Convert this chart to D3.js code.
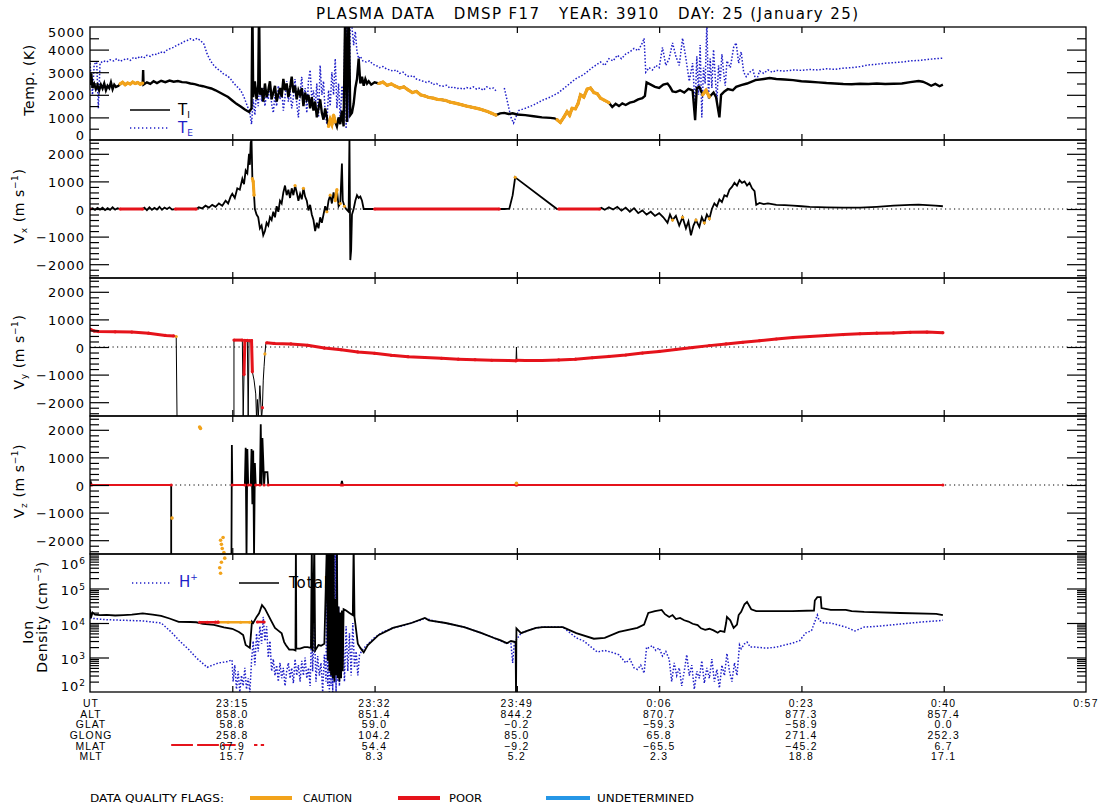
<!DOCTYPE html>
<html><head><meta charset="utf-8">
<script src="https://cdn.jsdelivr.net/npm/d3@7"></script>
<style>
body{margin:0;background:#fff}
svg{display:block;background:#fff}
text{font-family:"DejaVu Sans","Liberation Sans",sans-serif;fill:#000}
</style></head><body>
<svg id="c" width="1104" height="810"></svg>
<script>
// ---------------- DATA (time = minutes after 22:58 UT) ----------------
const timeTicks = [17,34,51,68,85,102];
const utLabels = ["23:15","23:32","23:49","0:06","0:23","0:40","0:57"];
const utTimes = [17,34,51,68,85,102,119];
const rowNames = ["UT","ALT","GLAT","GLONG","MLAT","MLT"];
const altVals = ["858.0","851.4","844.2","870.7","877.3","857.4"];
const glatVals = ["58.8","59.0","\u22120.2","\u221259.3","\u221258.9","0.0"];
const glongVals = ["258.8","104.2","85.0","65.8","271.4","252.3"];
const mlatVals = ["67.9","54.4","\u22129.2","\u221265.5","\u221245.2","6.7"];
const mltVals = ["15.7","8.3","5.2","2.3","18.8","17.1"];
const tempTickVals = [0,1000,2000,3000,4000,5000];
const velTickVals = [-2000,-1000,0,1000,2000];
const densTickExp = [2,3,4,5,6];

// flag: 0 = good (black), 1 = caution, 2 = poor
const tempIon = [
[0,2430,0],[0.15,2950,0],[0.3,2300,0],[0.5,2480,0],[0.7,2250,0],[0.9,2420,0],[1.1,2200,0],[1.3,2450,0],[1.5,2280,0],[1.7,2500,0],[1.9,2200,0],[2.1,2400,0],[2.3,2300,0],[2.5,2550,0],[2.7,2250,0],[2.9,2450,0],[3.1,2350,0],[3.4,2400,0],
[3.6,2480,1],[3.9,2550,1],[4.2,2450,1],[4.5,2520,1],[4.8,2480,1],[5.1,2560,1],[5.4,2500,1],[5.7,2540,1],[6.0,2470,1],[6.3,2520,1],
[6.35,3100,0],[6.4,2450,0],[6.8,2550,0],[7.2,2480,0],[7.6,2600,0],[8.0,2520,0],[8.5,2620,0],[9.0,2560,0],[9.5,2630,0],[10.0,2580,0],[10.5,2610,0],[11.0,2560,0],[11.5,2550,0],[12.0,2500,0],[12.5,2470,0],[13.0,2420,0],[13.5,2380,0],[14.0,2330,0],[14.5,2280,0],[15.0,2200,0],[15.5,2100,0],[16.0,2000,0],[16.5,1900,0],[17.0,1750,0],[17.5,1600,0],[18.0,1480,0],[18.5,1350,0],[19.0,1240,0],[19.3,1400,0],
[19.4,6000,0],[19.5,1900,0],[19.7,2600,0],[19.9,1800,0],[20.1,2400,0],[20.2,6000,0],[20.3,2000,0],[20.5,2300,0],[20.7,1700,0],[20.9,2500,0],[21.1,1900,0],[21.3,2200,0],[21.5,2600,0],[21.7,1800,0],[21.9,2100,0],[22.1,2400,0],[22.3,1700,0],[22.5,2000,0],[22.7,2300,0],[22.9,1900,0],[23.1,2700,0],[23.3,2200,0],[23.5,2500,0],[23.7,1900,0],[23.9,2300,0],[24.1,2800,0],[24.3,2100,0],[24.5,2400,0],[24.7,1800,0],[24.9,2200,0],[25.1,2000,0],[25.3,2300,0],[25.5,1500,0],[25.7,2100,0],[25.9,1800,0],[26.1,2000,0],[26.3,1400,0],[26.5,1900,0],[26.7,1300,0],[26.9,1700,0],[27.1,1000,0],[27.3,1400,0],[27.5,1800,0],[27.7,1200,0],[27.9,900,0],[28.1,1400,0],[28.3,1000,0],
[28.5,600,1],[28.7,900,1],[28.9,700,1],[29.1,1100,1],[29.3,800,1],
[29.5,600,0],[29.7,1000,0],[29.9,700,0],[30.1,1300,0],[30.3,600,0],[30.5,6000,0],[30.7,800,0],[30.9,6000,0],[31.1,1100,0],[31.3,1200,0],[31.5,1600,0],[31.7,2300,0],[31.9,2700,0],[32.1,3600,0],[32.3,2500,0],[32.5,2800,0],[32.7,2400,0],[32.9,2700,0],[33.1,2500,0],[33.3,2600,0],[33.6,2450,0],[34.0,2550,0],
[34.5,2500,1],[35.0,2560,1],[35.5,2420,1],[36.0,2480,1],[36.5,2380,1],[37.0,2300,1],[37.5,2350,1],[38.0,2220,1],[38.5,2100,1],[39.0,2150,1],[39.5,2000,1],[40.0,1950,1],[40.5,1880,1],[41.0,1850,1],[41.5,1800,1],[42.0,1780,1],[42.5,1750,1],[43.0,1680,1],[43.5,1640,1],[44.0,1600,1],[44.5,1550,1],[45.0,1500,1],[45.5,1460,1],[46.0,1420,1],[46.5,1380,1],[47.0,1320,1],[47.5,1260,1],[48.0,1180,1],[48.5,1100,1],
[49.0,1180,0],[49.5,1200,0],[50.0,1150,0],[50.5,1180,0],[51.0,1130,0],[52.0,1100,0],[53.0,1050,0],[54.0,1000,0],[55.0,980,0],[55.5,960,0],
[55.8,900,1],[56.2,780,1],[56.6,1000,1],[57.0,1250,1],[57.3,1100,1],[57.6,1400,1],[58.0,1380,1],[58.3,1600,1],[58.6,2000,1],[59.0,1900,1],[59.4,2250,1],[59.8,2300,1],[60.2,2100,1],[60.6,2050,1],[61.0,1850,1],[61.5,1750,1],[62.0,1650,1],
[62.4,1460,0],[62.8,1600,0],[63.2,1500,0],[63.6,1620,0],[64.0,1550,0],[64.5,1650,0],[65.0,1700,0],[65.5,1800,0],[66.0,1850,0],[66.3,1950,0],[66.5,2550,0],[67.0,2450,0],[67.5,2350,0],[68.0,2300,0],[68.5,2450,0],[69.0,2500,0],[69.3,2350,0],[69.6,2150,0],[70.0,2120,0],[70.5,2200,0],[71.0,2100,0],[71.5,2260,0],[72.0,2200,0],[72.3,880,0],[72.5,2300,0],[72.8,2350,0],
[73.2,2000,1],[73.6,2200,1],[74.0,1900,1],
[74.5,2100,0],[74.8,1900,0],[75.2,1000,0],[75.4,2000,0],[75.8,2150,0],[76.2,2250,0],[76.8,2200,0],[77.2,2350,0],[77.8,2430,0],[78.5,2500,0],[79.5,2650,0],[80.5,2700,0],[81.2,2740,0],[82,2700,0],[83,2680,0],[84,2650,0],[85,2600,0],[86,2580,0],[87,2550,0],[88,2520,0],[89,2500,0],[90,2480,0],[91,2470,0],[92,2490,0],[93,2480,0],[94,2500,0],[95,2480,0],[96,2490,0],[97,2500,0],[98,2560,0],[99,2610,0],[99.5,2580,0],[100,2500,0],[100.5,2400,0],[101,2480,0],[101.5,2380,0],[101.9,2450,0]
];

const tempElec = [
[0,3400],[0.3,2000],[0.5,3350],[0.8,3450],[1.0,1400],[1.2,3400],[1.6,3500],[2.0,3450],[2.4,3550],[2.8,3500],[3.2,3600],[3.6,3480],[4.0,3550],[4.4,3600],[4.8,3520],[5.2,3650],[5.6,3600],[6.0,3700],[6.4,3620],[6.8,3750],[7.2,3700],[7.6,3800],[8.0,3780],[8.4,3900],[8.8,3850],[9.2,3980],[9.6,4050],[10.0,4100],[10.4,4200],[10.8,4250],[11.2,4350],[11.6,4400],[12.0,4480],[12.4,4420],[12.8,4500],[13.2,4400],[13.6,4250],[14.0,3800],[14.4,3500],[14.8,3300],[15.2,3150],[15.6,3050],[16.0,2900],[16.4,2850],[16.8,2700],[17.2,2500],[17.6,2350],[18.0,2200],[18.4,1900],[18.8,1500],[19.1,1200],[19.3,700],[19.5,1800],[19.7,1100],[19.9,2200],[20.1,1500],[20.3,2600],[20.5,1700],[20.7,2300],[20.9,1500],[21.1,2100],[21.3,1800],[21.5,2500],[21.7,1600],[21.9,1200],[22.1,2000],[22.3,1500],[22.5,2400],[22.7,1800],[22.9,2300],[23.1,1300],[23.3,1900],[23.5,2600],[23.7,1700],[23.9,2200],[24.1,1400],[24.3,1900],[24.5,2700],[24.7,1600],[24.9,1000],[25.1,2100],[25.3,2800],[25.5,1700],[25.7,2300],[25.9,1200],[26.1,2600],[26.3,3100],[26.5,1800],[26.7,2200],[26.9,1400],[27.1,2500],[27.3,1000],[27.5,3300],[27.7,2000],[27.9,2600],[28.1,1200],[28.3,700],[28.5,2200],[28.7,1500],[28.9,3000],[29.1,2000],[29.3,3600],[29.5,1400],[29.7,2500],[29.9,900],[30.1,2400],[30.3,1700],[30.5,6000],[30.6,500],[30.7,6000],[30.8,800],[30.9,6000],[31.0,1000],[31.1,6000],[31.3,5000],[31.5,4200],[31.7,4800],[31.9,3900],[32.1,3600],[32.3,3700],[32.6,3500],[33.0,3450],[33.4,3500],[33.8,3350],[34.2,3300],[34.6,3200],[35.0,3250],[35.4,3150],[35.8,3100],[36.2,3050],[36.6,3100],[37.0,2950],[37.4,3000],[37.8,2850],[38.2,2800],[38.6,2850],[39.0,2700],[39.4,2650],[39.8,2600],[40.2,2550],[40.6,2600],[41.0,2450],[41.4,2500],[41.8,2400],[42.2,2380],[42.6,2420],[43.0,2300],[43.4,2350],[43.8,2280],[44.2,2300],[44.6,2250],[45.0,2320],[45.4,2280],[45.8,2350],[46.2,2250],[46.6,2300],[47.0,2200],[47.4,2350],[47.8,2280],[48.2,2300],[48.5,2180],
null,
[49.5,2300],[50.3,1000],[50.6,750],[51.2,1300],[52.0,1400],[53.0,1550],[54.0,1750],[55.0,1900],[56.0,2100],[57.0,2400],[58.0,2700],[59.0,2900],[60.0,3200],[61.0,3450],[61.5,3300],[62.0,3600],[62.5,3500],[63.0,3750],[63.5,3600],[64.0,3800],[64.5,3900],[65.0,4050],[65.5,3950],[66.0,4300],[66.2,4500],[66.4,3000],[66.8,3200],[67.2,3100],[67.6,3300],[68.0,3200],[68.4,4100],[68.8,3300],[69.2,3600],[69.6,4300],[70.0,3700],[70.4,3300],[70.8,4500],[71.2,3600],[71.6,2600],[72.0,3400],[72.3,1500],[72.5,3700],[72.7,2000],[72.9,4200],[73.1,1000],[73.3,3200],[73.5,2500],[73.7,5200],[73.9,1800],[74.1,3600],[74.3,2300],[74.5,4000],[74.7,2800],[74.9,1700],[75.1,3300],[75.3,2600],[75.5,3800],[75.7,3000],[75.9,2400],[76.1,3500],[76.5,3200],[76.9,4100],[77.2,4300],[77.5,3400],[77.8,3900],[78.1,3000],[78.4,2800],[78.8,3000],[79.2,3100],[79.6,2600],[80.0,3050],[80.5,2950],[81.0,3100],[81.5,3000],[82,3080],[83,3050],[84,3100],[85,3080],[86,3120],[87,3100],[88,3150],[89,3130],[90,3180],[91,3200],[92,3250],[93,3320],[94,3350],[95,3400],[96,3420],[97,3450],[98,3500],[99,3520],[100,3560],[101,3600],[101.9,3620]
];

const velX = [
[0,0,2],[0.3,30,0],[0.6,-30,0],[0.9,40,0],[1.2,-20,0],[1.5,50,0],[1.8,-40,0],[2.1,30,0],[2.4,-30,0],[2.7,60,0],[3.0,-20,0],[3.3,30,0],[3.6,0,2],[6.3,0,2],[6.5,50,0],[6.8,-40,0],[7.1,60,0],[7.4,-30,0],[7.7,40,0],[8.0,-20,0],[8.3,80,0],[8.6,-30,0],[8.9,50,0],[9.2,0,0],[9.5,60,0],[9.8,-20,0],[10.2,0,2],[12.7,0,2],[13.0,60,0],[13.4,20,0],[13.8,120,0],[14.2,50,0],[14.6,150,0],[15.0,80,0],[15.4,200,0],[15.8,120,0],[16.2,300,0],[16.5,200,0],[16.8,450,0],[17.0,550,0],[17.3,400,0],[17.6,750,0],[17.9,700,0],[18.2,1100,0],[18.4,900,0],[18.6,1400,0],[18.8,1300,0],[19.0,2000,0],[19.1,1600,0],[19.2,2400,0],[19.3,2500,0],[19.4,1100,1],[19.5,1000,1],[19.6,500,1],[19.7,0,0],[19.9,-200,0],[20.1,-300,0],[20.3,-700,0],[20.5,-600,0],[20.7,-950,0],[20.9,-800,0],[21.1,-500,0],[21.3,-600,0],[21.5,-300,0],[21.7,-400,0],[21.9,-100,0],[22.1,-300,0],[22.3,100,0],[22.5,-100,0],[22.7,300,0],[22.9,200,0],[23.1,600,0],[23.3,850,0],[23.5,500,0],[23.7,700,0],[23.9,400,0],[24.1,750,0],[24.3,500,0],[24.5,850,1],[24.7,600,0],[24.9,300,0],[25.1,550,0],[25.3,350,0],[25.5,750,1],[25.7,450,0],[25.9,300,0],[26.1,-50,0],[26.3,150,0],[26.5,-200,0],[26.7,-400,0],[26.9,-800,0],[27.1,-500,0],[27.3,-700,0],[27.5,-300,0],[27.7,-500,0],[27.9,-200,0],[28.1,100,0],[28.3,-100,1],[28.5,300,0],[28.7,500,1],[28.9,200,0],[29.1,600,0],[29.3,300,1],[29.5,700,1],[29.7,100,0],[29.9,200,1],[30.1,1650,0],[30.2,300,0],[30.4,100,1],[30.6,0,0],[30.9,-100,0],[31.0,2600,0],[31.1,-1850,0],[31.2,-1500,0],[31.3,-200,0],[31.5,0,0],[31.7,300,0],[31.9,500,0],[32.1,400,0],[32.3,450,0],[32.5,300,0],[32.7,0,0],[33.0,0,0],[34.0,0,2],[48.9,0,2],[49.5,0,0],[50.1,10,0],[50.5,500,0],[50.8,1150,1],[51.0,1100,0],[55.8,0,0],[56.0,0,2],[60.9,0,2],[61.1,40,0],[61.5,-30,0],[62.0,60,0],[62.5,-20,0],[63.0,80,0],[63.5,-60,0],[64.0,50,0],[64.5,-100,0],[65.0,30,0],[65.5,-150,0],[66.0,-50,0],[66.5,-200,0],[67.0,-100,0],[67.5,-250,0],[68.0,-150,0],[68.5,-300,0],[69.0,-500,0],[69.3,-200,0],[69.6,-400,1],[70.0,-250,0],[70.4,-600,0],[70.8,-300,1],[71.2,-700,0],[71.5,-450,0],[71.8,-950,0],[72.1,-600,0],[72.4,-400,1],[72.8,-650,0],[73.1,-300,0],[73.4,-500,1],[73.7,-200,0],[74.0,-350,1],[74.3,0,0],[74.6,200,0],[74.9,100,0],[75.2,350,0],[75.5,250,0],[75.8,500,0],[76.1,450,0],[76.4,700,0],[76.7,800,0],[77.0,950,0],[77.3,850,0],[77.6,1050,0],[77.9,950,0],[78.2,1000,0],[78.5,850,0],[78.8,950,0],[79.1,750,0],[79.4,650,0],[79.6,150,0],[80,220,0],[80.5,180,0],[81,200,0],[82,150,0],[83,140,0],[84,120,0],[85,100,0],[86,80,0],[88,60,0],[90,50,0],[92,50,0],[94,80,0],[96,120,0],[98,150,0],[99,160,0],[100,140,0],[101,120,0],[101.9,100,0]
];

const velY = [
[0,650,2],[0.5,580,2],[1,560,2],[3,550,2],[5,540,2],[7,500,2],[9,420,2],[10.0,400,2],[10.3,380,1],[10.4,-2600,0],
null,
[17.2,-2600,0],[17.2,250,2],[18.2,250,2],[18.3,-2600,0],[18.4,-1000,2],[18.5,240,2],[18.8,240,2],[18.9,-2600,0],[19.0,230,2],[19.3,230,2],[19.4,-900,2],[19.6,-1200,0],[19.8,-1700,0],[19.9,-2600,0],[20.0,-1900,0],[20.1,-2600,0],[20.3,-1400,0],[20.5,-2600,0],[20.6,-2200,2],[20.7,-1200,0],[20.8,-700,0],[20.9,-250,1],[21.0,100,0],[21.1,150,2],[22,130,2],[24,110,2],[26,60,2],[28,-40,2],[30,-100,2],[32,-180,2],[34,-230,2],[36,-300,2],[38,-350,2],[40,-380,2],[42,-410,2],[44,-440,2],[46,-460,2],[48,-480,2],[50,-490,2],[50.9,-500,2],[50.95,0,0],[51.0,-480,2],[52,-490,2],[54,-490,2],[56,-470,2],[58,-440,2],[60,-390,2],[62,-340,2],[64,-290,2],[66,-220,2],[68,-160,2],[70,-90,2],[72,-20,2],[74,50,2],[76,110,2],[78,170,2],[80,230,2],[82,290,2],[84,340,2],[86,380,2],[88,420,2],[90,450,2],[92,480,2],[94,500,2],[96,510,2],[98,530,2],[100,540,2],[101.9,520,2]
];

const velZ = [
[0,0,2],[0.1,100,0],[0.2,0,2],[9.7,0,2],[9.7,-2600,0],
null,
[16.9,-2600,0],[16.95,1450,0],[17.0,0,2],[18.5,0,2],[18.6,1350,0],[18.7,-2600,0],[18.8,1300,0],[18.9,0,2],[19.2,0,2],[19.3,1300,0],[19.4,-700,0],[19.5,1250,0],[19.6,-2600,0],[19.7,800,0],[19.8,0,2],[20.3,0,2],[20.4,2200,0],[20.5,0,0],[20.6,1700,0],[20.7,900,0],[20.8,0,2],[20.9,470,0],[21.2,470,0],[21.3,0,2],[30,0,2],[30.1,150,0],[30.2,0,2],[50.9,0,2],[51.0,0,2],[101.9,0,2]
];
const velZCautionPts = [[13.1,2100],[13.2,2050],[9.8,-1200],[15.6,-2000],[15.7,-2150],[15.8,-2300],[15.9,-1900],[16.0,-2450],[16.1,-2650],[15.7,-2800],[15.5,-3000],[15.6,-3200],[50.95,60]];

const densTotal = [
[0,2.5e4],[0.1,1.4e4],[0.3,2.0e4],[0.6,1.75e4],[1.2,1.7e4],[2.0,1.72e4],[3.0,1.65e4],[4.0,1.7e4],[5.0,1.75e4],[6.3,1.9e4],[7.5,1.75e4],[8.5,1.6e4],[9.5,1.35e4],[10.6,1.08e4],[12.0,1.07e4],[12.7,1.05e4],[13.5,9.5e3],[14.8,8.8e3],[16.0,7.5e3],[17.0,6.8e3],[17.8,5.5e3],[18.3,4.5e3],[18.6,2.3e3],[19.1,1.9e3],[19.35,1.1e4],[19.5,1.0e4],[19.9,1.5e4],[20.2,1.9e4],[20.55,3.3e4],[20.9,2.6e4],[21.3,1.7e4],[21.7,1.1e4],[22.1,7.2e3],[22.5,6.0e3],[22.9,5.0e3],[23.2,2.8e3],[23.4,2.3e3],[23.8,1.7e3],[24.3,1.7e3],[24.55,1.6e3],[24.6,2e6],[24.65,1.8e3],[25.1,1.8e3],[25.6,2.0e3],[26.0,2.0e3],[26.4,1.9e3],[26.5,2e6],[26.6,1.5e3],[26.8,2e6],[26.9,1.6e3],[27.3,2.3e3],[27.6,2.2e3],[28.0,2.5e3],[28.3,2e6],[28.4,800],[28.5,2e6],[28.6,400],[28.7,2e6],[28.8,300],[28.9,2e6],[29.0,250],[29.1,2e6],[29.2,200],[29.3,5e4],[29.4,300],[29.5,2e6],[29.6,250],[29.7,3e4],[29.8,200],[29.9,2e4],[30.0,250],[30.1,2.3e4],[30.2,400],[30.3,2.5e4],[30.45,2.4e4],[30.6,2.3e4],[31.0,1.95e4],[31.4,1.7e4],[31.5,2e6],[31.6,1.5e4],[32.0,2.5e3],[32.3,1.9e3],[32.7,1.4e3],[33.2,2.3e3],[34.5,4.5e3],[36.2,7.2e3],[38.4,1.0e4],[40.0,1.4e4],[40.5,1.2e4],[42.5,1.0e4],[44.7,7.6e3],[46.8,5.1e3],[48.5,3.5e3],[49.0,3.2e3],[49.8,2.6e3],[50.3,3.0e3],[50.85,2.8e3],[50.9,80],[50.95,7e3],[51.5,5.1e3],[52.3,6e3],[53.3,7.2e3],[54.1,7.6e3],[56.5,7.6e3],[58.1,5.1e3],[60.2,3.5e3],[61.5,3.7e3],[63.2,5.5e3],[65.4,7.2e3],[66.2,9e3],[66.7,1.95e4],[67.5,2.2e4],[68.3,2.4e4],[68.7,1.8e4],[69.2,1.5e4],[69.6,1.7e4],[70.0,1.3e4],[70.5,1.4e4],[71.0,1.2e4],[71.5,1.1e4],[72.0,9.5e3],[72.6,8.7e3],[73.0,7e3],[73.5,6.3e3],[74.0,6.8e3],[74.5,6.1e3],[75.0,5.2e3],[75.3,5.9e3],[75.8,5.5e3],[76.0,1.0e4],[76.1,1.5e4],[76.5,1.2e4],[76.9,7.2e3],[77.3,9e3],[77.5,1.7e4],[77.8,2.1e4],[78.2,3.5e4],[78.5,4.1e4],[79.0,2.5e4],[79.6,2.2e4],[81,2.2e4],[83.9,2.2e4],[86.5,2.3e4],[86.6,4.5e4],[86.9,5.6e4],[87.3,5.6e4],[87.4,2.7e4],[88.5,2.4e4],[90.3,2.4e4],[91,2.2e4],[92.5,2.1e4],[96.8,1.95e4],[101.1,1.85e4],[101.9,1.7e4]
];

const densHplus = [
[0,1.4e4],[1,1.3e4],[2,1.25e4],[4,1.2e4],[6.3,1.15e4],[8.5,1.0e4],[9.7,5.5e3],[10.6,3.2e3],[11.8,1.7e3],[12.7,980],[14.0,520],[15.3,690],[16.3,750],[16.97,850],[17.1,200],[17.3,600],[17.5,120],[17.7,400],[17.9,100],[18.1,300],[18.3,150],[18.5,500],[18.7,120],[18.9,250],[19.1,100],[19.3,800],[19.5,3e3],[19.7,600],[19.9,5e3],[20.1,1.5e3],[20.3,8e3],[20.5,2.5e3],[20.7,1.5e4],[20.9,3e3],[21.1,8e3],[21.3,1e3],[21.5,3e3],[21.7,400],[21.9,900],[22.1,300],[22.3,600],[22.5,200],[22.7,700],[22.9,250],[23.1,500],[23.3,150],[23.5,400],[23.7,700],[23.9,250],[24.1,500],[24.3,180],[24.5,900],[24.7,300],[24.9,600],[25.1,200],[25.3,800],[25.5,300],[25.7,1000],[25.9,250],[26.1,500],[26.3,150],[26.5,1e4],[26.6,400],[26.8,8e3],[27.0,200],[27.2,1100],[27.4,300],[27.6,700],[27.8,100],[28.0,1200],[28.2,200],[28.3,2e6],[28.4,150],[28.5,2e6],[28.6,100],[28.7,2e6],[28.8,150],[28.9,2e6],[29.0,100],[29.1,2e6],[29.2,180],[29.3,2e6],[29.4,100],[29.5,2e6],[29.6,200],[29.7,3e4],[29.8,150],[29.9,1.5e4],[30.0,300],[30.2,1.2e4],[30.4,200],[30.6,8e3],[30.8,400],[31.0,5e3],[31.2,300],[31.4,1e4],[31.6,500],[31.8,1.5e3],[32.0,300],[32.2,1.2e3],[32.5,1.6e3],[33.0,2.2e3],[34.0,3.8e3],[35,5.5e3],[36.2,7.2e3],[37.5,8.5e3],[38.4,1.0e4],[39.5,1.2e4],[40.0,1.4e4],[41,1.15e4],[42.5,1.0e4],[44.7,7.6e3],[46.8,5.1e3],[48.5,3.5e3],[49.5,2.7e3],[50.3,2.5e3],[50.5,700],[50.7,2.7e3],[51.5,5.1e3],[53.3,7.2e3],[54.1,7.6e3],[56.5,7.6e3],[58.1,3.7e3],[59,3e3],[60.6,1.45e3],[61.5,1.6e3],[62.4,1.4e3],[63.2,1.2e3],[64.0,700],[64.5,900],[65.0,500],[65.4,450],[65.8,600],[66.2,350],[66.5,2e3],[66.7,1.9e3],[67.2,2.2e3],[67.6,1.6e3],[68.0,1.9e3],[68.4,1.1e3],[68.8,1.5e3],[69.2,900],[69.5,200],[69.8,700],[70.1,300],[70.4,500],[70.7,150],[71.0,400],[71.3,1.2e3],[71.6,300],[71.9,600],[72.2,120],[72.5,400],[72.8,250],[73.1,800],[73.4,180],[73.7,500],[74.0,250],[74.3,900],[74.6,200],[74.9,450],[75.2,130],[75.5,600],[75.8,300],[76.1,1.3e3],[76.4,400],[76.7,200],[77.0,700],[77.3,300],[77.6,2.3e3],[77.8,1.8e3],[78.2,2.5e3],[78.5,2.8e3],[78.9,2.0e3],[79.6,2.0e3],[80.4,1.9e3],[81.2,1.9e3],[82,2.0e3],[83.9,2.6e3],[84.8,3.1e3],[85.5,5.1e3],[86.2,6e3],[86.9,1.7e4],[87.1,1.2e4],[87.7,1.0e4],[88.5,1.0e4],[90.3,7.6e3],[91.4,5.9e3],[92.5,7.6e3],[94,8e3],[96.8,9.3e3],[99,1.05e4],[101.1,1.15e4],[101.9,1.2e4]
];

const densFlagged = [[13.1,1.05e4,2],[14.0,1.05e4,2],[15.0,1.06e4,2],[15.3,1.06e4,2],[15.3,1.06e4,1],[16.5,1.05e4,1],[18.0,1.05e4,1],[19.1,1.05e4,1],null,[20.0,1.07e4,2],[20.8,1.07e4,2]];
const strayRow = [[9.7,2],[12.3,2],null,[12.8,2],[14.6,2],[14.6,1],[15.4,1],null,[15.8,2],[17.4,2],null,[19.6,2],[20.0,2],null,[20.4,2],[20.8,2]];

const flagNames = ["CAUTION","POOR","UNDETERMINED"];
const flagColors = ["#f2a31b","#e5131b","#2596e6"];

// ---------------- DRAWING ----------------
const svg = d3.select('#c');
const X0 = 90, X1 = 1086;
const x = d3.scaleLinear().domain([0,119]).range([X0,X1]);
const panels = {
  temp:{top:27,bot:140}, vx:{top:140,bot:278}, vy:{top:278,bot:416}, vz:{top:416,bot:554}, dens:{top:554,bot:692}
};
const yT = d3.scaleLinear().domain([0,5000]).range([panels.temp.bot,panels.temp.top]);
const yVx = d3.scaleLinear().domain([-2500,2500]).range([panels.vx.bot,panels.vx.top]);
const yVy = d3.scaleLinear().domain([-2500,2500]).range([panels.vy.bot,panels.vy.top]);
const yVz = d3.scaleLinear().domain([-2500,2500]).range([panels.vz.bot,panels.vz.top]);
const yD = d3.scaleLog().domain([1e2,1e6]).range([panels.dens.bot,panels.dens.top]);

const defs = svg.append('defs');
Object.entries(panels).forEach(([k,p])=>{
  defs.append('clipPath').attr('id','clip-'+k).append('rect')
    .attr('x',X0).attr('y',p.top).attr('width',X1-X0).attr('height',p.bot-p.top);
});

const flagColor = f => f===1 ? flagColors[0] : (f===2 ? flagColors[1] : flagColors[2]);
const BLUE = '#1e1ec8';

// Title
svg.append('text').attr('x',316).attr('y',19).attr('font-size',15)
  .attr('xml:space','preserve').style('white-space','pre')
  .attr('textLength',542).attr('lengthAdjust','spacing')
  .text('PLASMA DATA   DMSP F17   YEAR: 3910   DAY: 25 (January 25)');

// Legends inside panels (drawn before data)
const leg = svg.append('g');
leg.append('line').attr('x1',130).attr('x2',170).attr('y1',110).attr('y2',110).attr('stroke','#000').attr('stroke-width',1.3);
const tI = leg.append('text').attr('x',178).attr('y',115).attr('font-size',15);
tI.append('tspan').text('T');
tI.append('tspan').attr('font-size',9).attr('dy',3).text('I');
leg.append('line').attr('x1',130).attr('x2',170).attr('y1',128).attr('y2',128).attr('stroke',BLUE).attr('stroke-width',1.3).attr('stroke-dasharray','1.3,2.7');
const tE = leg.append('text').attr('x',178).attr('y',133).attr('font-size',15);
tE.append('tspan').style('fill',BLUE).text('T');
tE.append('tspan').style('fill',BLUE).attr('font-size',9).attr('dy',3).text('E');

leg.append('line').attr('x1',132).attr('x2',171).attr('y1',583).attr('y2',583).attr('stroke',BLUE).attr('stroke-width',1.3).attr('stroke-dasharray','1.3,2.7');
const hp = leg.append('text').attr('x',179).attr('y',587).attr('font-size',15);
hp.append('tspan').style('fill',BLUE).text('H');
hp.append('tspan').style('fill',BLUE).attr('font-size',9).attr('dy',-7).text('+');
leg.append('line').attr('x1',239).attr('x2',279).attr('y1',583).attr('y2',583).attr('stroke','#000').attr('stroke-width',1.3);
leg.append('text').attr('x',289).attr('y',588).attr('font-size',15).attr('letter-spacing',1).text('Total');

// zero dotted lines
[yVx,yVy,yVz].forEach(ys=>{
  svg.append('line').attr('x1',X0).attr('x2',X1).attr('y1',ys(0)).attr('y2',ys(0))
    .attr('stroke','#000').attr('stroke-width',1).attr('stroke-dasharray','1.2,3.3');
});

function drawLine(key, data, ys, opts){
  const g = svg.append('g').attr('clip-path','url(#clip-'+key+')');
  const line = d3.line().defined(d=>d!==null).x(d=>x(d[0])).y(d=>ys(d[1]));
  g.append('path').datum(data).attr('d',line).attr('fill','none')
    .attr('stroke',opts.stroke||'#000').attr('stroke-width',opts.width||1)
    .attr('stroke-dasharray',opts.dash||null).attr('stroke-linejoin','miter');
  return g;
}
function drawFlags(key, data, ys, width){
  const g = svg.append('g').attr('clip-path','url(#clip-'+key+')');
  const line = d3.line().x(d=>x(d[0])).y(d=>ys(d[1]));
  [1,2].forEach(f=>{
    const segs=[]; let cur=[];
    data.forEach(d=>{ if(d && d[2]===f){cur.push(d);} else { if(cur.length) segs.push(cur); cur=[]; } });
    if(cur.length) segs.push(cur);
    segs.forEach(s=>{
      if(s.length>1) g.append('path').datum(s).attr('d',line).attr('fill','none')
        .attr('stroke',flagColor(f)).attr('stroke-width',width);
    });
    g.selectAll(null).data(data.filter(d=>d && d[2]===f)).enter().append('circle')
      .attr('cx',d=>x(d[0])).attr('cy',d=>ys(d[1])).attr('r',1.6).attr('fill',flagColor(f));
  });
}

// Temperature
drawLine('temp', tempElec, yT, {stroke:BLUE, width:1.5, dash:'1.5,1.8'});
drawLine('temp', tempIon, yT, {width:2.4});
drawFlags('temp', tempIon, yT, 3.2);
// Vx
drawLine('vx', velX, yVx, {width:1.8});
drawFlags('vx', velX, yVx, 3);
// Vy
drawLine('vy', velY, yVy, {width:1});
drawFlags('vy', velY, yVy, 3);
// Vz
drawLine('vz', velZ, yVz, {width:1.8});
drawFlags('vz', velZ, yVz, 2);
svg.append('g').selectAll('circle').data(velZCautionPts).enter().append('circle')
  .attr('cx',d=>x(d[0])).attr('cy',d=>yVz(d[1])).attr('r',1.8).attr('fill',flagColors[0]);
// Density
drawLine('dens', densHplus, yD, {stroke:BLUE, width:1.5, dash:'1.5,1.8'});
drawLine('dens', densTotal, yD, {width:1.8});
drawFlags('dens', densFlagged, yD, 2.5);

// stray flagged marks in the MLAT row
const strayLine = d3.line().defined(d=>d!==null).x(d=>x(d[0])).y(()=>745);
svg.append('path').datum(strayRow).attr('d',strayLine).attr('fill','none').attr('stroke',flagColors[1]).attr('stroke-width',2);

// Frames and axes
function frame(p){
  svg.append('rect').attr('x',X0).attr('y',p.top).attr('width',X1-X0).attr('height',p.bot-p.top)
    .attr('fill','none').attr('stroke','#000').attr('stroke-width',1.3);
}
function yAxes(ys, majors, minors){
  const add = (gen, tx) => svg.append('g').attr('transform','translate('+tx+',0)').call(gen)
    .call(s=>{s.select('.domain').remove(); s.selectAll('line').attr('stroke','#000').attr('stroke-width',1.2);});
  add(d3.axisLeft(ys).tickValues(majors).tickSize(-19).tickFormat(''), X0);
  add(d3.axisLeft(ys).tickValues(minors).tickSize(-9).tickFormat(''), X0);
  add(d3.axisRight(ys).tickValues(majors).tickSize(-19).tickFormat(''), X1);
  add(d3.axisRight(ys).tickValues(minors).tickSize(-9).tickFormat(''), X1);
}
function xAxes(p){
  const add = (gen, ty) => svg.append('g').attr('transform','translate(0,'+ty+')').call(gen)
    .call(s=>{s.select('.domain').remove(); s.selectAll('line').attr('stroke','#000').attr('stroke-width',1.2);});
  add(d3.axisTop(x).tickValues(timeTicks).tickSize(-6).tickFormat(''), p.top);
  add(d3.axisBottom(x).tickValues(timeTicks).tickSize(-6).tickFormat(''), p.bot);
}
Object.values(panels).forEach(p=>{ frame(p); xAxes(p); });

const velMinors = d3.range(-2400,2401,200).filter(v=>v%1000!==0);
yAxes(yT, [1000,2000,3000,4000], [500,1500,2500,3500,4500]);
yAxes(yVx, velTickVals, velMinors);
yAxes(yVy, velTickVals, velMinors);
yAxes(yVz, velTickVals, velMinors);
const densMinors = [];
[2,3,4,5].forEach(e=>{ for(let k=2;k<=9;k++) densMinors.push(k*Math.pow(10,e)); });
yAxes(yD, [1e3,1e4,1e5], densMinors);

// y tick labels
function yLabels(ys, vals, p, fmt){
  vals.forEach(v=>{
    let yy = Math.min(Math.max(ys(v)+1, p.top+5), p.bot-5);
    svg.append('text').attr('x',85).attr('y',yy).attr('dy','0.36em').attr('text-anchor','end')
      .attr('font-size',13).attr('letter-spacing',1).text(fmt(v));
  });
}
const vfmt = v => v<0 ? '\u2212'+Math.abs(v) : String(v);
yLabels(yT, tempTickVals, panels.temp, String);
yLabels(yVx, velTickVals, panels.vx, vfmt);
yLabels(yVy, velTickVals, panels.vy, vfmt);
yLabels(yVz, velTickVals, panels.vz, vfmt);
densTickExp.forEach(e=>{
  const p = panels.dens;
  let yy = Math.min(Math.max(yD(Math.pow(10,e))+2, p.top+10), p.bot-6);
  const t = svg.append('text').attr('x',86).attr('y',yy).attr('dy','0.36em').attr('text-anchor','end').attr('font-size',13).attr('letter-spacing',1);
  t.append('tspan').text('10');
  t.append('tspan').attr('font-size',9).attr('dy',-5).text(String(e));
});

// y axis titles
function rotTitle(xb, yc, build){
  const t = svg.append('text').attr('transform','translate('+xb+','+yc+') rotate(-90)')
    .attr('text-anchor','middle').attr('font-size',14).attr('letter-spacing',0.6);
  build(t);
}
rotTitle(34, 80, t=>t.text('Temp. (K)'));
function velTitle(xb, yc, comp){
  rotTitle(xb, yc, t=>{
    t.append('tspan').text('V');
    t.append('tspan').attr('font-size',9).attr('dy',3).text(comp);
    t.append('tspan').attr('dy',-3).text(' (m s');
    t.append('tspan').attr('font-size',9).attr('dy',-6).text('\u22121');
    t.append('tspan').attr('dy',6).text(')');
  });
}
velTitle(24, 206, 'x');
velTitle(24, 352, 'y');
velTitle(24, 481, 'z');
rotTitle(33, 632, t=>t.text('Ion'));
rotTitle(47, 617, t=>{
  t.append('tspan').text('Density (cm');
  t.append('tspan').attr('font-size',9).attr('dy',-6).text('\u22123');
  t.append('tspan').attr('dy',6).text(')');
});

// table below
const rowsVals = [utLabels, altVals, glatVals, glongVals, mlatVals, mltVals];
const rowY = [703.5,714.1,724.7,735.3,745.9,756.5];
const tableFont = '"Liberation Sans","DejaVu Sans",sans-serif';
rowNames.forEach((n,i)=>{
  svg.append('text').attr('x',91).attr('y',rowY[i]).attr('dy','0.35em').attr('text-anchor','middle')
    .style('font-family',tableFont).attr('font-size',10.4).attr('letter-spacing',1).text(n);
  rowsVals[i].forEach((v,j)=>{
    svg.append('text').attr('x',x(utTimes[j])).attr('y',rowY[i]).attr('dy','0.35em').attr('text-anchor','middle')
      .style('font-family',tableFont).attr('font-size',10.4).attr('letter-spacing',1.3).text(v);
  });
});

// quality-flag legend
const qy = 798;
svg.append('text').attr('x',90).attr('y',qy).attr('dy','0.36em').attr('font-size',11).attr('textLength',134).attr('lengthAdjust','spacingAndGlyphs').text('DATA QUALITY FLAGS:');
const legX = [[250,292,303,49],[398,440,449,33],[546,590,597,97]];
flagNames.forEach((n,i)=>{
  svg.append('line').attr('x1',legX[i][0]).attr('x2',legX[i][1]).attr('y1',qy).attr('y2',qy).attr('stroke',flagColors[i]).attr('stroke-width',4);
  svg.append('text').attr('x',legX[i][2]).attr('y',qy).attr('dy','0.36em').attr('font-size',11).attr('textLength',legX[i][3]).attr('lengthAdjust','spacingAndGlyphs').text(n);
});
</script>
</body></html>
